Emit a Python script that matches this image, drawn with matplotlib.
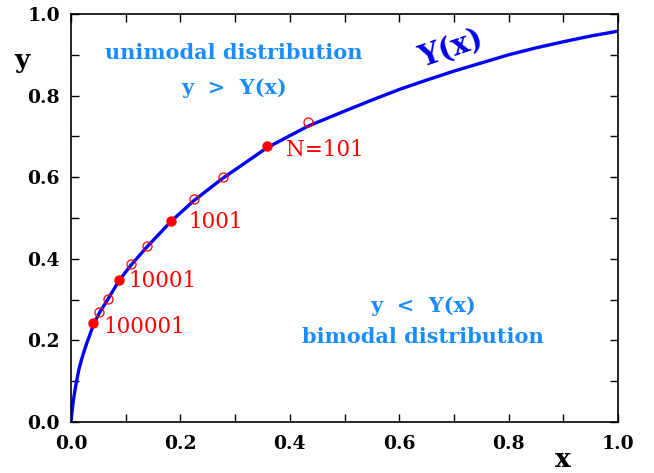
import numpy as np
import matplotlib
matplotlib.use("Agg")
import matplotlib.pyplot as plt
from matplotlib.ticker import MultipleLocator

# Curve Y(x)
curve_x = [0.0, 0.001, 0.002, 0.004, 0.006, 0.009, 0.012, 0.015, 0.019, 0.024,
           0.029, 0.034, 0.041, 0.052, 0.067, 0.088, 0.110, 0.138, 0.183, 0.225,
           0.277, 0.358, 0.433, 0.50, 0.55, 0.60, 0.65, 0.70, 0.75, 0.80, 0.85,
           0.90, 0.95, 1.0]
curve_y = [0.0, 0.015, 0.027, 0.050, 0.068, 0.092, 0.113, 0.132, 0.152, 0.174,
           0.194, 0.212, 0.239, 0.268, 0.300, 0.347, 0.385, 0.428, 0.492, 0.543,
           0.597, 0.672, 0.725, 0.762, 0.789, 0.815, 0.838, 0.860, 0.880, 0.900,
           0.917, 0.932, 0.946, 0.958]

# Filled points with their N labels
filled_x = [0.358, 0.183, 0.0883, 0.0408]
filled_y = [0.677, 0.493, 0.348, 0.242]
filled_labels = ["N=101", "1001", "10001", "100001"]
label_x = [0.393, 0.214, 0.105, 0.060]
label_y = [0.667, 0.490, 0.346, 0.234]

# Open points
open_x = [0.433, 0.277, 0.225, 0.138, 0.110, 0.0671, 0.0518]
open_y = [0.735, 0.600, 0.547, 0.431, 0.388, 0.301, 0.270]

light_blue = "#1a8cff"
font = "DejaVu Serif"

fig = plt.figure(figsize=(6.54, 4.73), dpi=100)
ax = fig.add_axes([0.1086, 0.1078, 0.8364, 0.8626])

ax.plot(curve_x, curve_y, color="#0000ff", lw=2.4, zorder=2,
        solid_joinstyle="round")
ax.plot(filled_x, filled_y, "o", color="red", ms=6.5, zorder=3)
ax.plot(open_x, open_y, "o", mfc="none", mec="red", mew=0.9, ms=6.5, zorder=3)

for lx, ly, t in zip(label_x, label_y, filled_labels):
    ax.text(lx, ly, t, color="red", fontsize=15.5, family=font,
            ha="left", va="center")

ax.text(0.298, 0.904, "unimodal distribution", color=light_blue, fontsize=15,
        family=font, weight="bold", ha="center", va="center")
ax.text(0.298, 0.818, "y  >  Y(x)", color=light_blue, fontsize=15,
        family=font, weight="bold", ha="center", va="center")
ax.text(0.643, 0.284, "y  <  Y(x)", color=light_blue, fontsize=15,
        family=font, weight="bold", ha="center", va="center")
ax.text(0.643, 0.208, "bimodal distribution", color=light_blue, fontsize=15,
        family=font, weight="bold", ha="center", va="center")
ax.text(0.695, 0.915, "Y(x)", color="#0000ee", fontsize=21, family=font,
        weight="bold", ha="center", va="center", rotation=19)

ax.set_xlim(0, 1)
ax.set_ylim(0, 1)
ax.xaxis.set_major_locator(MultipleLocator(0.2))
ax.xaxis.set_minor_locator(MultipleLocator(0.1))
ax.yaxis.set_major_locator(MultipleLocator(0.2))
ax.yaxis.set_minor_locator(MultipleLocator(0.1))
ax.tick_params(which="both", direction="in", top=True, right=True,
               length=6, width=1)
ax.tick_params(axis="x", pad=9)
ax.tick_params(axis="y", pad=8)
for lab in ax.get_xticklabels() + ax.get_yticklabels():
    lab.set_family(font)
    lab.set_weight("bold")
    lab.set_fontsize(13.5)
for s in ax.spines.values():
    s.set_linewidth(1.2)

ax.text(0.899, -0.093, "x", transform=ax.transAxes, fontsize=19, family=font,
        weight="bold", ha="center", va="center")
ax.text(-0.090, 0.887, "y", transform=ax.transAxes, fontsize=19, family=font,
        weight="bold", ha="center", va="center")

fig.savefig("out.png", dpi=100)
